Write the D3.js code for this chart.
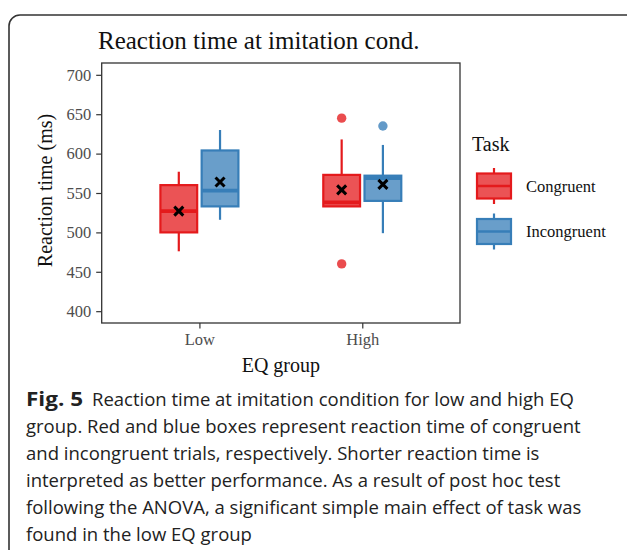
<!DOCTYPE html>
<html><head><meta charset="utf-8">
<script src="https://cdn.jsdelivr.net/npm/d3@7"></script>
<style>
html,body{margin:0;padding:0;background:#fff;}
svg{display:block;}
</style></head>
<body>
<svg id="c" width="627" height="550"></svg>
<script>
// ---- data ----
const groups = ["Low", "High"];
const tasks = ["Congruent", "Incongruent"];
const yTicks = [400, 450, 500, 550, 600, 650, 700];
// per task, order matches groups
const whiskerLow  = {Congruent: [476, 533], Incongruent: [516, 499]};
const q1          = {Congruent: [500, 533], Incongruent: [533, 540]};
const medians     = {Congruent: [527, 538], Incongruent: [553, 569]};
const q3          = {Congruent: [560, 573], Incongruent: [604, 572]};
const whiskerHigh = {Congruent: [577, 618], Incongruent: [630, 611]};
const means       = {Congruent: [527, 554], Incongruent: [564, 561]};
const outliers    = {Congruent: [[], [645, 460]], Incongruent: [[], [635]]};
const strokeCol = {Congruent: "#E41A1C", Incongruent: "#377EB8"};

const svg = d3.select("#c");
const serif = "'Liberation Serif','Times New Roman',serif";

// border
svg.append("rect").attr("x", 9).attr("y", 15).attr("width", 700).attr("height", 600)
  .attr("rx", 11).attr("fill", "none").attr("stroke", "#333").attr("stroke-width", 1.6);

const P = {l: 101.7, r: 460, t: 63, b: 323};
const x = d3.scalePoint().domain(groups).range([P.l, P.r]).padding(0.6);
const dodge = d3.scaleBand().domain(tasks).range([-40, 40]).paddingInner(0.06);
const y = d3.scaleLinear().domain([385, 715]).range([P.b, P.t]);

// title
svg.append("text").attr("x", 98).attr("y", 49).attr("font-family", serif)
  .attr("font-size", 25).attr("fill", "#111").text("Reaction time at imitation cond.");

// y axis
const yAxis = svg.append("g").attr("transform", `translate(${P.l},0)`)
  .call(d3.axisLeft(y).tickValues(yTicks).tickSize(5.5).tickPadding(5));
yAxis.select(".domain").remove();
yAxis.selectAll("line").attr("stroke", "#333").attr("stroke-width", 1.2);
yAxis.selectAll("text").attr("font-family", serif).attr("font-size", 16.5).attr("fill", "#4D4D4D");

// x axis
const xAxis = svg.append("g").attr("transform", `translate(0,${P.b})`)
  .call(d3.axisBottom(x).tickSize(5.5).tickPadding(5));
xAxis.select(".domain").remove();
xAxis.selectAll("line").attr("stroke", "#333").attr("stroke-width", 1.2);
xAxis.selectAll("text").attr("font-family", serif).attr("font-size", 16.5).attr("fill", "#4D4D4D");

// axis titles
svg.append("text").attr("x", (P.l + P.r) / 2).attr("y", 371.5).attr("text-anchor", "middle")
  .attr("font-family", serif).attr("font-size", 20).attr("fill", "#111").text("EQ group");
svg.append("text").attr("transform", `translate(52,190.5) rotate(-90)`)
  .attr("text-anchor", "middle").attr("font-family", serif).attr("font-size", 20)
  .attr("fill", "#111").text("Reaction time (ms)");

// boxes
const bw = dodge.bandwidth();
tasks.forEach(t => {
  const col = strokeCol[t];
  groups.forEach((g, i) => {
    const cx = x(g) + dodge(t) + bw / 2;
    const gEl = svg.append("g");
    // whiskers
    gEl.append("line").attr("x1", cx).attr("x2", cx).attr("y1", y(whiskerHigh[t][i])).attr("y2", y(q3[t][i]))
      .attr("stroke", col).attr("stroke-width", 2.2);
    gEl.append("line").attr("x1", cx).attr("x2", cx).attr("y1", y(q1[t][i])).attr("y2", y(whiskerLow[t][i]))
      .attr("stroke", col).attr("stroke-width", 2.2);
    // box
    gEl.append("rect").attr("x", cx - bw / 2 + 1).attr("width", bw - 2)
      .attr("y", y(q3[t][i])).attr("height", y(q1[t][i]) - y(q3[t][i]))
      .attr("fill", col).attr("fill-opacity", 0.75).attr("stroke", col).attr("stroke-width", 2.2);
    // median
    gEl.append("line").attr("x1", cx - bw / 2 + 1).attr("x2", cx + bw / 2 - 1)
      .attr("y1", y(medians[t][i])).attr("y2", y(medians[t][i]))
      .attr("stroke", col).attr("stroke-width", 3.8);
    // outliers
    outliers[t][i].forEach(v => {
      gEl.append("circle").attr("cx", cx).attr("cy", y(v)).attr("r", 4.7)
        .attr("fill", col).attr("fill-opacity", 0.78);
    });
    // mean X
    const my = y(means[t][i]), s = 4.5;
    gEl.append("path").attr("d", `M${cx - s},${my - s}L${cx + s},${my + s}M${cx - s},${my + s}L${cx + s},${my - s}`)
      .attr("stroke", "#000").attr("stroke-width", 3);
  });
});

// panel border
svg.append("rect").attr("x", P.l).attr("y", P.t).attr("width", P.r - P.l).attr("height", P.b - P.t)
  .attr("fill", "none").attr("stroke", "#333").attr("stroke-width", 1.3);

// legend
svg.append("text").attr("x", 472).attr("y", 151).attr("font-family", serif).attr("font-size", 20)
  .attr("fill", "#111").text("Task");
tasks.forEach((t, k) => {
  const col = strokeCol[t];
  const cy = 186 + k * 45.5;
  const lx = 494;
  svg.append("line").attr("x1", lx).attr("x2", lx).attr("y1", cy - 18).attr("y2", cy + 18)
    .attr("stroke", col).attr("stroke-width", 2.2);
  svg.append("rect").attr("x", 477).attr("y", cy - 12.5).attr("width", 34).attr("height", 25)
    .attr("fill", "#fff");
  svg.append("rect").attr("x", 477).attr("y", cy - 12.5).attr("width", 34).attr("height", 25)
    .attr("fill", col).attr("fill-opacity", 0.75).attr("stroke", col).attr("stroke-width", 2.2);
  svg.append("line").attr("x1", 477).attr("x2", 511).attr("y1", cy).attr("y2", cy)
    .attr("stroke", col).attr("stroke-width", 2.5);
  svg.append("text").attr("x", 526).attr("y", cy + 5.5).attr("font-family", serif).attr("font-size", 16.5)
    .attr("fill", "#111").text(t);
});

// caption
const capLines = [
  null,
  "group. Red and blue boxes represent reaction time of congruent",
  "and incongruent trials, respectively. Shorter reaction time is",
  "interpreted as better performance. As a result of post hoc test",
  "following the ANOVA, a significant simple main effect of task was",
  "found in the low EQ group"
];
const capFont = "'Open Sans','Noto Sans',sans-serif";
const cap = svg.append("g").attr("font-family", capFont).attr("font-size", 18.5).attr("fill", "#222");
const first = cap.append("text").attr("x", 26).attr("y", 406);
first.append("tspan").attr("font-weight", "bold").attr("font-size", 19.5)
  .attr("textLength", 57).attr("lengthAdjust", "spacingAndGlyphs").text("Fig. 5");
first.append("tspan").attr("x", 92).text("Reaction time at imitation condition for low and high EQ");
capLines.forEach((l, i) => {
  if (l) cap.append("text").attr("x", 26).attr("y", 406 + i * 27).text(l);
});
</script>
</body></html>
